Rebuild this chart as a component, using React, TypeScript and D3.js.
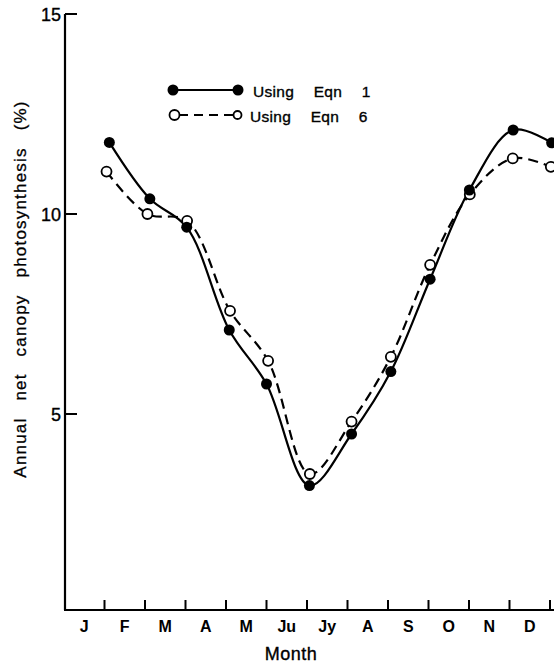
import { useEffect, useRef } from 'react'
import * as d3 from 'd3'

// month labels along the bottom axis
const monthLabels = ['J', 'F', 'M', 'A', 'M', 'Ju', 'Jy', 'A', 'S', 'O', 'N', 'D']
const yTicks = [5, 10, 15]

// Using Eqn 1 (filled points) - position in months, value in %
const eqn1Month = [1.12, 2.12, 3.03, 4.08, 5.0, 6.06, 7.1, 8.07, 9.04, 10.01, 11.09, 12.04]
const eqn1Value = [11.79, 10.38, 9.67, 7.1, 5.75, 3.21, 4.5, 6.06, 8.37, 10.6, 12.1, 11.78]

// Using Eqn 6 (open points)
const eqn6Month = [1.05, 2.06, 3.04, 4.1, 5.04, 6.07, 7.1, 8.07, 9.04, 10.02, 11.08, 12.02]
const eqn6Value = [11.06, 10.0, 9.83, 7.58, 6.33, 3.5, 4.81, 6.43, 8.73, 10.49, 11.39, 11.18]

const W = 554
const H = 665
const FONT = '"Liberation Sans", Arial, Helvetica, sans-serif'

export default function App() {
  const ref = useRef<SVGSVGElement>(null)

  useEffect(() => {
    const svg = d3.select(ref.current)
    svg.selectAll('*').remove()

    const x = d3.scaleLinear().domain([0, 12]).range([64, 550])
    const y = d3.scaleLinear().domain([0, 15]).range([614, 14])
    const axisX = 65
    const axisY = y(0.1)

    // axes
    svg.append('line')
      .attr('x1', axisX).attr('x2', axisX).attr('y1', y(15)).attr('y2', axisY)
      .attr('stroke', '#000').attr('stroke-width', 2.2)
    svg.append('line')
      .attr('x1', axisX - 1).attr('x2', W).attr('y1', axisY).attr('y2', axisY)
      .attr('stroke', '#000').attr('stroke-width', 2.2)

    svg.selectAll('line.ytick').data(yTicks).enter().append('line')
      .attr('class', 'ytick')
      .attr('x1', axisX).attr('x2', axisX + 12)
      .attr('y1', d => y(d)).attr('y2', d => y(d))
      .attr('stroke', '#000').attr('stroke-width', 2)
    svg.selectAll('text.ytick').data(yTicks).enter().append('text')
      .attr('class', 'ytick')
      .attr('x', axisX - 4).attr('y', d => y(d) + 6.5)
      .attr('text-anchor', 'end')
      .style('font-family', FONT).style('font-size', '18px')
      .attr('stroke', '#000').attr('stroke-width', 0.35)
      .text(d => d)

    const boundaries = d3.range(1, 13)
    svg.selectAll('line.xtick').data(boundaries).enter().append('line')
      .attr('class', 'xtick')
      .attr('x1', d => x(d)).attr('x2', d => x(d))
      .attr('y1', axisY).attr('y2', axisY - 10)
      .attr('stroke', '#000').attr('stroke-width', 2)
    svg.selectAll('text.xlab').data(monthLabels).enter().append('text')
      .attr('class', 'xlab')
      .attr('x', (d, i) => x(i + 0.5)).attr('y', 632)
      .attr('text-anchor', 'middle')
      .style('font-family', FONT).style('font-size', '16px').style('font-weight', 'bold')
      .text(d => d)

    svg.append('text')
      .attr('x', 291).attr('y', 660)
      .attr('text-anchor', 'middle')
      .style('font-family', FONT).style('font-size', '18px')
      .style('letter-spacing', '0.5px')
      .attr('stroke', '#000').attr('stroke-width', 0.35)
      .text('Month')

    svg.append('text')
      .attr('transform', 'translate(26,289) rotate(-90)')
      .attr('text-anchor', 'middle')
      .style('font-family', FONT).style('font-size', '17px')
      .style('letter-spacing', '1.2px').style('word-spacing', '11px')
      .attr('stroke', '#000').attr('stroke-width', 0.3)
      .text('Annual net canopy photosynthesis (%)')

    // series
    const line = d3.line<[number, number]>()
      .x(d => x(d[0])).y(d => y(d[1]))
      .curve(d3.curveCatmullRom.alpha(0.5))
    const s1 = eqn1Month.map((m, i) => [m, eqn1Value[i]] as [number, number])
    const s6 = eqn6Month.map((m, i) => [m, eqn6Value[i]] as [number, number])

    svg.append('path').attr('d', line(s6))
      .attr('fill', 'none').attr('stroke', '#000').attr('stroke-width', 2.2)
      .attr('stroke-dasharray', '10,6')
    svg.append('path').attr('d', line(s1))
      .attr('fill', 'none').attr('stroke', '#000').attr('stroke-width', 2.2)

    svg.selectAll('circle.p6').data(s6).enter().append('circle')
      .attr('class', 'p6')
      .attr('cx', d => x(d[0])).attr('cy', d => y(d[1])).attr('r', 5)
      .attr('fill', '#fff').attr('stroke', '#000').attr('stroke-width', 1.8)
    svg.selectAll('circle.p1').data(s1).enter().append('circle')
      .attr('class', 'p1')
      .attr('cx', d => x(d[0])).attr('cy', d => y(d[1])).attr('r', 5.5)
      .attr('fill', '#000')

    // legend
    const lg = svg.append('g')
    lg.append('line').attr('x1', 173).attr('x2', 238).attr('y1', 90).attr('y2', 90)
      .attr('stroke', '#000').attr('stroke-width', 2)
    lg.selectAll('circle.l1').data([173, 238]).enter().append('circle')
      .attr('cx', d => d).attr('cy', 90).attr('r', 5.5).attr('fill', '#000')
    lg.append('line').attr('x1', 179).attr('x2', 233).attr('y1', 115).attr('y2', 115)
      .attr('stroke', '#000').attr('stroke-width', 2).attr('stroke-dasharray', '9,6')
    lg.append('circle').attr('cx', 174.5).attr('cy', 115).attr('r', 5)
      .attr('fill', '#fff').attr('stroke', '#000').attr('stroke-width', 1.8)
    lg.append('circle').attr('cx', 237.5).attr('cy', 115).attr('r', 4)
      .attr('fill', '#fff').attr('stroke', '#000').attr('stroke-width', 1.8)
    lg.selectAll('text').data(['Using Eqn 1', 'Using Eqn 6']).enter().append('text')
      .attr('x', (d, i) => (i === 0 ? 253 : 250)).attr('y', (d, i) => (i === 0 ? 96.5 : 121.5))
      .style('font-family', FONT).style('font-size', '15.5px')
      .style('word-spacing', '15px').style('letter-spacing', '0.3px')
      .attr('stroke', '#000').attr('stroke-width', 0.35)
      .text(d => d)
  }, [])

  return (
    <svg
      ref={ref}
      width={W}
      height={H}
      style={{ position: 'absolute', left: 0, top: 0, background: '#fff' }}
    />
  )
}
